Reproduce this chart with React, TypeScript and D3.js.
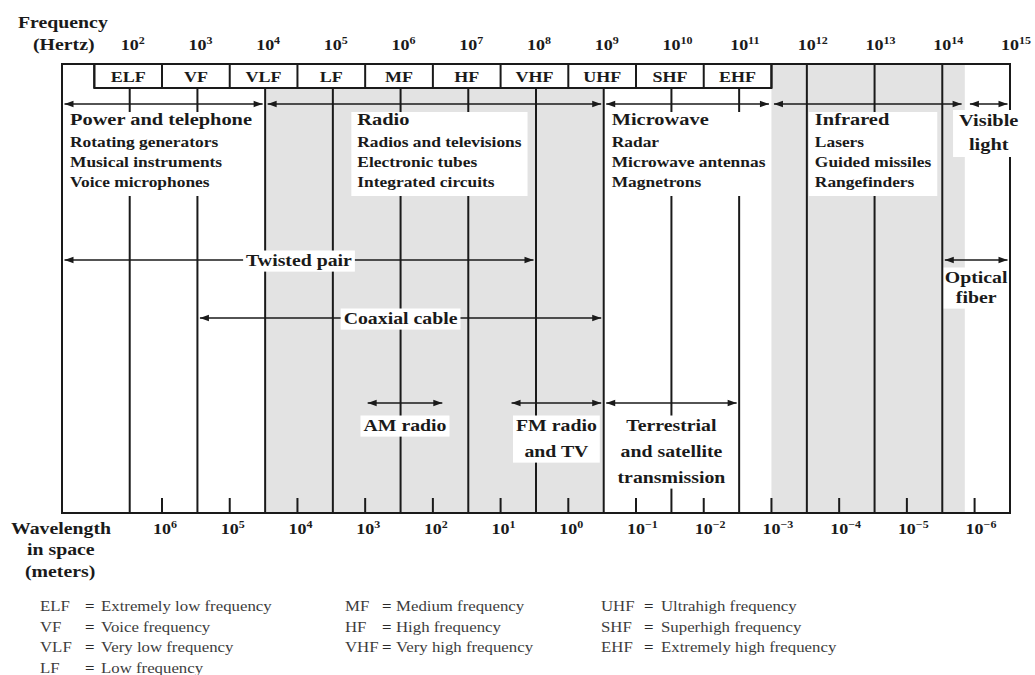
import React, { useEffect, useRef } from "react";
import * as d3 from "d3";

// decades on the frequency axis (powers of 10 Hz)
const freqExponents = [2, 3, 4, 5, 6, 7, 8, 9, 10, 11, 12, 13, 14, 15];
// decades on the wavelength axis (powers of 10 m)
const wavelengthExponents = [6, 5, 4, 3, 2, 1, 0, -1, -2, -3, -4, -5, -6];

// band names and their edges (Hz)
const bandNames = ["ELF", "VF", "VLF", "LF", "MF", "HF", "VHF", "UHF", "SHF", "EHF"];
const bandEdges = [3e1, 3e2, 3e3, 3e4, 3e5, 3e6, 3e7, 3e8, 3e9, 3e10, 3e11];

// shaded parts of the spectrum (Hz)
const shadedRanges = [[1e4, 1e9], [3e11, 2.15e14]];

// application groups along the top
const groupTitles = [["Power and telephone"], ["Radio"], ["Microwave"], ["Infrared"], ["Visible", "light"]];
const groupRanges = [[1e1, 1e4], [1e4, 1e9], [1e9, 3e11], [3e11, 2.1e14], [2.35e14, 1e15]];
const groupItems = [
  ["Rotating generators", "Musical instruments", "Voice microphones"],
  ["Radios and televisions", "Electronic tubes", "Integrated circuits"],
  ["Radar", "Microwave antennas", "Magnetrons"],
  ["Lasers", "Guided missiles", "Rangefinders"],
  [],
];

// guided media
const mediaNames = [["Twisted pair"], ["Coaxial cable"], ["Optical", "fiber"]];
const mediaRanges = [[1e1, 1e8], [1e3, 1e9], [1e14, 1e15]];

// transmission services
const serviceNames = [["AM radio"], ["FM radio", "and TV"], ["Terrestrial", "and satellite", "transmission"]];
const serviceRanges = [[3e5, 4.5e6], [4e7, 1e9], [1e9, 1e11]];

// legend
const legendAbbr = [["ELF", "VF", "VLF", "LF"], ["MF", "HF", "VHF"], ["UHF", "SHF", "EHF"]];
const legendMeaning = [
  ["Extremely low frequency", "Voice frequency", "Very low frequency", "Low frequency"],
  ["Medium frequency", "High frequency", "Very high frequency"],
  ["Ultrahigh frequency", "Superhigh frequency", "Extremely high frequency"],
];

const App = () => {
  const svgRef = useRef<SVGSVGElement>(null);

  useEffect(() => {
    const width = 1035;
    const height = 675;
    const top = 64;
    const bandBottom = 88;
    const bottom = 513;
    const arrowY = 104;
    const SX = 1.2; // the scan is stretched sideways
    const ink = "#1a1a1a";
    const font = "'Liberation Serif', 'Times New Roman', serif";

    const x = d3.scaleLog().domain([1e1, 1e15]).range([62, 1010]);

    const svg = d3.select(svgRef.current)
      .attr("width", width)
      .attr("height", height)
      .attr("viewBox", `0 0 ${width} ${height}`)
      .style("font-family", font);

    svg.selectAll("*").remove();

    svg.append("rect").attr("width", width).attr("height", height).attr("fill", "#fff");

    const text = (g, tx, ty, str, size, anchor = "start", bold = true, fill = ink) =>
      g.append("text")
        .attr("transform", `translate(${tx},${ty}) scale(${SX},1)`)
        .attr("font-size", size)
        .attr("font-weight", bold ? "bold" : "normal")
        .attr("text-anchor", anchor)
        .attr("fill", fill)
        .text(str);

    // shading
    svg.append("g").selectAll("rect")
      .data(shadedRanges)
      .join("rect")
      .attr("x", d => x(d[0]))
      .attr("y", top)
      .attr("width", d => x(d[1]) - x(d[0]))
      .attr("height", bottom - top)
      .attr("fill", "#e3e3e3");

    const lines = svg.append("g").attr("stroke", ink).attr("stroke-width", 2);

    // band row
    lines.append("rect")
      .attr("x", x(bandEdges[0]))
      .attr("y", top)
      .attr("width", x(bandEdges[bandEdges.length - 1]) - x(bandEdges[0]))
      .attr("height", bandBottom - top)
      .attr("fill", "#fff");
    lines.selectAll("line.band")
      .data(bandEdges)
      .join("line")
      .attr("x1", d => x(d)).attr("x2", d => x(d))
      .attr("y1", top).attr("y2", bandBottom);

    // decade lines
    lines.selectAll("line.dec")
      .data(freqExponents.slice(0, -1))
      .join("line")
      .attr("x1", d => x(10 ** d)).attr("x2", d => x(10 ** d))
      .attr("y1", d => (10 ** d > bandEdges[0] && 10 ** d < bandEdges[bandEdges.length - 1] ? bandBottom : top))
      .attr("y2", bottom);

    // wavelength ticks
    lines.selectAll("line.wl")
      .data(wavelengthExponents)
      .join("line")
      .attr("x1", d => x(3e8 / 10 ** d)).attr("x2", d => x(3e8 / 10 ** d))
      .attr("y1", bottom - 15).attr("y2", bottom);

    // frame
    const [x0, x1] = x.range();
    lines.append("path")
      .attr("fill", "none")
      .attr("d", `M${x0},${bottom}V${top}H${x1}V${bottom}Z`);

    // arrows
    const arrows = svg.append("g");
    const arrow = (a, b, y) => {
      const xa = x(a) + 2.5;
      const xb = x(b) - 2.5;
      arrows.append("line").attr("x1", xa).attr("x2", xb).attr("y1", y).attr("y2", y)
        .attr("stroke", ink).attr("stroke-width", 1.6);
      arrows.append("path").attr("fill", ink)
        .attr("d", `M${xa},${y}l9,-3.2v6.4Z M${xb},${y}l-9,-3.2v6.4Z`);
    };
    groupRanges.forEach(r => arrow(r[0], r[1], arrowY));

    const labels = svg.append("g");
    const boxed = (pad = 2) => {
      const g = labels.append("g");
      const bg = g.append("rect").attr("fill", "#fff");
      const inner = g.append("g");
      return {
        inner,
        fit: (clamp?: [number, number], yr?: [number, number]) => {
          const bb = inner.node().getBBox();
          let l = bb.x - pad;
          let r = bb.x + bb.width + pad;
          if (clamp) { l = Math.max(l, clamp[0]); r = Math.min(r, clamp[1]); }
          const yt = yr ? yr[0] : bb.y - pad + 2;
          const yb = yr ? yr[1] : bb.y + bb.height + pad - 1;
          bg.attr("x", l).attr("y", yt).attr("width", r - l).attr("height", yb - yt);
        },
      };
    };

    // top application groups
    const textFreq = [1e1, 1.75e5, 1e9, 1e12];
    groupTitles.forEach((title, i) => {
      const [a, b] = groupRanges[i];
      const box = boxed(6);
      if (i < 4) {
        const tx = x(textFreq[i]) + 8;
        text(box.inner, tx, 125, title[0], 17);
        groupItems[i].forEach((s, j) => text(box.inner, tx, 147 + 20 * j, s, 14.5));
        box.fit([x(a) + 1.5, x(b) - 1.5], [112, 196]);
      } else {
        const cx = (x(a) + x(b)) / 2;
        title.forEach((s, j) => text(box.inner, cx, 126 + 24 * j, s, 17, "middle"));
        box.fit(undefined, [110, 157]);
      }
    });

    // guided media
    const mediaY = [260, 318, 260];
    mediaNames.forEach((name, i) => {
      const [a, b] = mediaRanges[i];
      arrow(a, b, mediaY[i]);
      const cx = (x(a) + x(b)) / 2;
      const box = boxed(3);
      if (name.length === 1) {
        text(box.inner, cx, mediaY[i] + 6, name[0], 16.5, "middle");
        box.fit();
      } else {
        name.forEach((s, j) => text(box.inner, cx, mediaY[i] + 23 + 20 * j, s, 16.5, "middle"));
        box.fit([x(a) + 1.5, x(b) - 1.5]);
      }
    });

    // services
    const serviceY = 403;
    serviceNames.forEach((name, i) => {
      const [a, b] = serviceRanges[i];
      arrow(a, b, serviceY);
      const cx = (x(a) + x(b)) / 2;
      const box = boxed(3);
      name.forEach((s, j) => text(box.inner, cx, 431 + 26 * j, s, 16.5, "middle"));
      box.fit();
    });

    // axis labels
    const axes = svg.append("g");
    const power = (cx, y, exp) => {
      const size = 15;
      const t = axes.append("text")
        .attr("transform", `translate(${cx - size * 0.5 * SX},${y}) scale(${SX},1)`)
        .attr("font-size", size)
        .attr("font-weight", "bold")
        .attr("fill", ink);
      t.append("tspan").text("10");
      t.append("tspan").attr("dy", -6.5).attr("font-size", 10)
        .text(exp < 0 ? `\u2212${-exp}` : `${exp}`);
    };
    freqExponents.forEach(e => power(x(10 ** e), 50, e));
    wavelengthExponents.forEach(e => power(x(3e8 / 10 ** e), 534, e));

    text(axes, 18, 28, "Frequency", 16.5);
    text(axes, 33, 50, "(Hertz)", 16.5);
    text(axes, 11, 534, "Wavelength", 16.5);
    text(axes, 27, 555, "in space", 16.5);
    text(axes, 25, 577, "(meters)", 16.5);

    // band names
    bandNames.forEach((n, i) =>
      text(axes, (x(bandEdges[i]) + x(bandEdges[i + 1])) / 2, 82, n, 15, "middle"));

    // legend
    const legend = svg.append("g");
    const abbrX = [40, 345, 601];
    const eqX = [85, 382, 644];
    const meanX = [101, 396, 661];
    legendAbbr.forEach((col, c) => {
      col.forEach((ab, r) => {
        const y = 611 + 20.7 * r;
        text(legend, abbrX[c], y, ab, 14, "start", false, "#3c3c3c");
        text(legend, eqX[c], y, "=", 14, "start", true, "#2a2a2a");
        text(legend, meanX[c], y, legendMeaning[c][r], 14, "start", false, "#3c3c3c");
      });
    });
  }, []);

  return <svg ref={svgRef} style={{ position: "absolute", left: 0, top: 0 }}></svg>;
};

export default App;
